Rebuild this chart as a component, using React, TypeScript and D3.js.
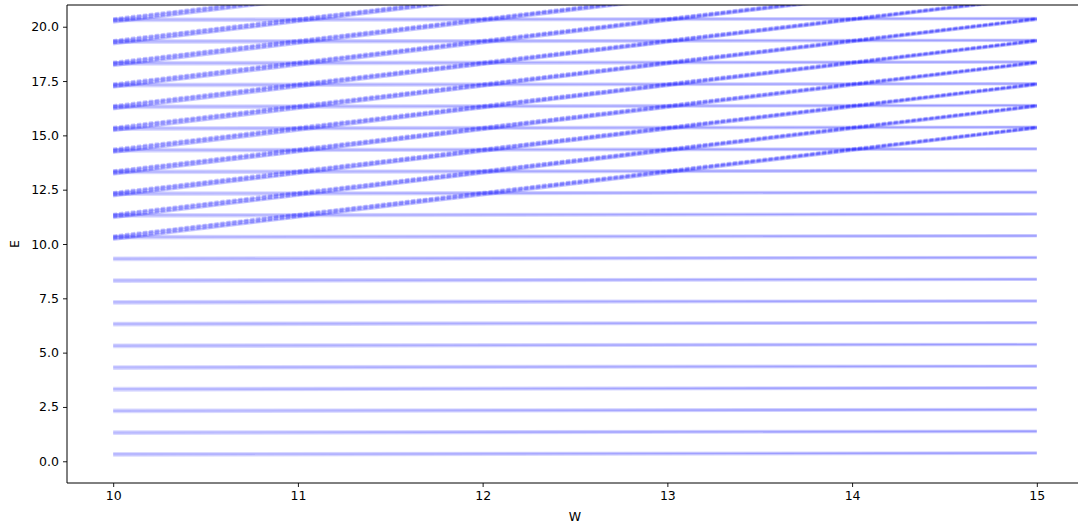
import React, { useRef, useEffect } from 'react';
import * as d3 from 'd3';

// energy levels that stay flat in W (value at W=10 and at W=15)
const flatStart = [0.32, 1.32, 2.32, 3.32, 4.32, 5.32, 6.32, 7.32, 8.32, 9.32, 10.32, 11.32, 12.32, 13.32, 14.32, 15.32, 16.32, 17.32, 18.32, 19.32, 20.32];
const flatEnd = [0.38, 1.38, 2.38, 3.38, 4.38, 5.38, 6.38, 7.38, 8.38, 9.38, 10.38, 11.38, 12.38, 13.38, 14.38, 15.38, 16.38, 17.38, 18.38, 19.38, 20.38];
// levels rising with W
const riseStart = [10.3, 11.3, 12.3, 13.3, 14.3, 15.3, 16.3, 17.3, 18.3, 19.3, 20.3];
const riseEnd = [15.36, 16.36, 17.36, 18.36, 19.36, 20.36, 21.36, 22.36, 23.36, 24.36, 25.36];
const wRange = [10, 15];
const xTicks = [10, 11, 12, 13, 14, 15];
const yTicks = [0, 2.5, 5, 7.5, 10, 12.5, 15, 17.5, 20];

interface Pt { w: number; e: number; }

export default function App() {
  const svgRef = useRef<SVGSVGElement>(null);

  useEffect(() => {
    const width = 1078, height = 525;
    const left = 67, right = 1083, top = 5, bottom = 483;
    const svg = d3.select(svgRef.current as SVGSVGElement);
    svg.selectAll('*').remove();
    svg.attr('width', width).attr('height', height);

    const x = d3.scaleLinear().domain([9.75, 15.25]).range([left, right]);
    const y = d3.scaleLinear().domain([-1, 21]).range([bottom, top]);

    svg.append('defs').append('clipPath').attr('id', 'plotclip')
      .append('rect').attr('x', left).attr('y', top).attr('width', right - left).attr('height', bottom - top);

    const line = d3.line<Pt>().x(d => x(d.w)).y(d => y(d.e));
    const g = svg.append('g').attr('clip-path', 'url(#plotclip)');

    // flat levels: a few faint overlapping traces each
    const flatOffsets = [-0.06, 0.0, 0.05];
    flatStart.forEach((s, i) => {
      flatOffsets.forEach((o) => {
        g.append('path')
          .datum([{ w: wRange[0], e: s + o }, { w: wRange[1], e: flatEnd[i] + o * 0.5 }])
          .attr('fill', 'none')
          .attr('stroke', 'blue')
          .attr('stroke-opacity', 0.15)
          .attr('stroke-width', 2.4)
          .attr('d', line);
      });
    });

    // rising levels: denser bundle, darker, slightly hatched
    const riseOffsets = [-0.11, -0.07, -0.03, 0.01, 0.05, 0.09];
    riseStart.forEach((s, i) => {
      riseOffsets.forEach((o, k) => {
        g.append('path')
          .datum([{ w: wRange[0], e: s + o }, { w: wRange[1], e: riseEnd[i] + o * 0.5 }])
          .attr('fill', 'none')
          .attr('stroke', 'blue')
          .attr('stroke-opacity', 0.2)
          .attr('stroke-width', 2.2)
          .attr('stroke-dasharray', k % 2 === 1 ? '4 2' : null)
          .attr('d', line);
      });
    });

    // axes
    const font = 'DejaVu Sans, sans-serif';
    const xAxis = svg.append('g').attr('transform', `translate(0,${bottom})`)
      .call(d3.axisBottom(x).tickValues(xTicks).tickSize(4).tickPadding(4).tickFormat(d3.format('d')));
    const yAxis = svg.append('g').attr('transform', `translate(${left},0)`)
      .call(d3.axisLeft(y).tickValues(yTicks).tickSize(4).tickPadding(4).tickFormat(d3.format('.1f')));
    [xAxis, yAxis].forEach(a => {
      a.select('.domain').remove();
      a.selectAll('line').attr('stroke', '#000').attr('stroke-width', 0.9);
      a.selectAll('text').attr('font-family', font).attr('font-size', 12.5).attr('fill', '#000');
    });

    // spines (right one sits just past the visible canvas)
    svg.append('line').attr('x1', left).attr('x2', right).attr('y1', bottom).attr('y2', bottom).attr('stroke', '#000').attr('stroke-width', 1);
    svg.append('line').attr('x1', left).attr('x2', right).attr('y1', top).attr('y2', top).attr('stroke', '#000').attr('stroke-width', 1);
    svg.append('line').attr('x1', left).attr('x2', left).attr('y1', top).attr('y2', bottom).attr('stroke', '#000').attr('stroke-width', 1);
    svg.append('line').attr('x1', right).attr('x2', right).attr('y1', top).attr('y2', bottom).attr('stroke', '#000').attr('stroke-width', 1);

    svg.append('text').attr('x', (left + right) / 2).attr('y', 521)
      .attr('text-anchor', 'middle').attr('font-family', font).attr('font-size', 12.5).text('W');
    svg.append('text').attr('transform', `translate(19,${(top + bottom) / 2}) rotate(-90)`)
      .attr('text-anchor', 'middle').attr('font-family', font).attr('font-size', 12.5).text('E');
  }, []);

  return <svg ref={svgRef} style={{ position: 'absolute', left: 0, top: 0, background: '#fff' }} />;
}
